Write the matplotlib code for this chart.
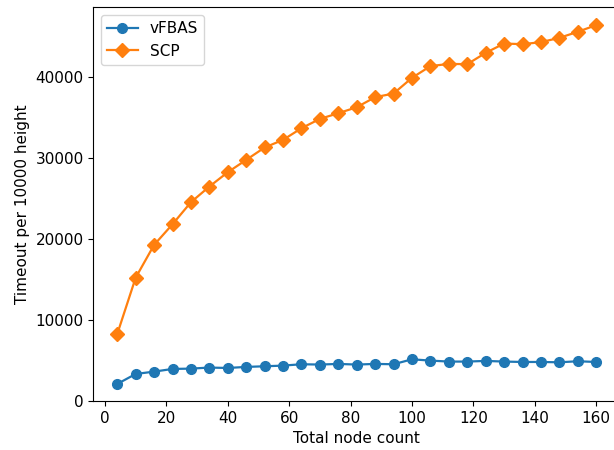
import matplotlib
matplotlib.use("Agg")
import matplotlib.pyplot as plt

node_counts = [4, 10, 16, 22, 28, 34, 40, 46, 52, 58, 64, 70, 76, 82, 88, 94,
               100, 106, 112, 118, 124, 130, 136, 142, 148, 154, 160]
vfbas = [2100, 3330, 3620, 3950, 3990, 4120, 4070, 4200, 4280, 4360, 4530, 4490,
         4570, 4490, 4570, 4530, 5140, 4980, 4860, 4860, 4940, 4860, 4810, 4810,
         4770, 4900, 4810]
scp = [8270, 15220, 19260, 21810, 24530, 26460, 28230, 29750, 31280, 32220,
       33660, 34810, 35510, 36250, 37490, 37940, 39880, 41320, 41600, 41560,
       42960, 44110, 44030, 44280, 44810, 45560, 46380]

fig = plt.figure(figsize=(6.14, 4.5), dpi=100)
ax = fig.add_axes([0.152, 0.109, 0.858, 0.875])
ax.plot(node_counts, vfbas, marker='o', markersize=7, linewidth=1.6,
        color='#1f77b4', label='vFBAS')
ax.plot(node_counts, scp, marker='D', markersize=7, linewidth=1.6,
        color='#ff7f0e', label='SCP')
ax.set_ylim(bottom=0)
ax.set_xlabel('Total node count', fontsize=11)
ax.set_ylabel('Timeout per 10000 height', fontsize=11)
ax.tick_params(labelsize=11)
ax.legend(loc='upper left', fontsize=11)
fig.savefig('out.png', dpi=100)
